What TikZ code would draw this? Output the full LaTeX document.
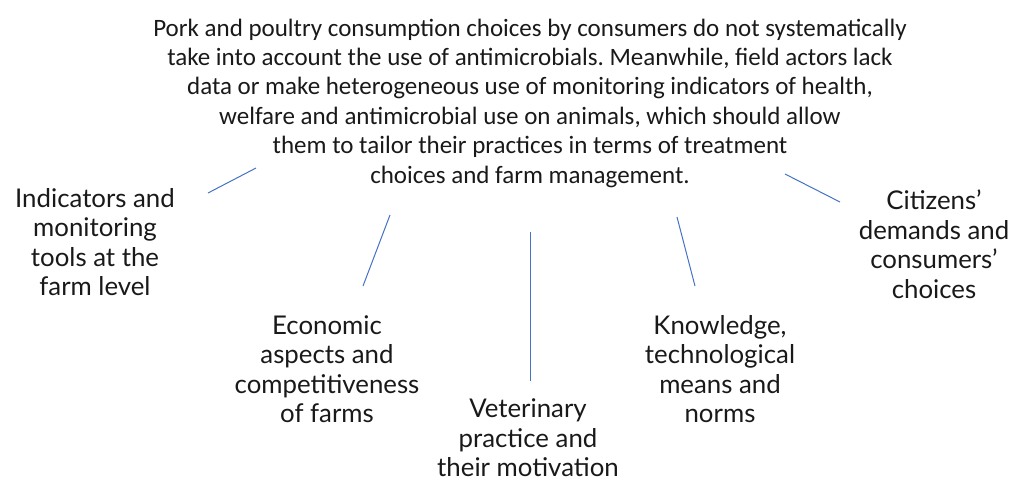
\documentclass[tikz,border=0pt]{standalone}
\usepackage{fontspec}
\setmainfont{Lato}
\newfontfamily\topfont{Carlito}
\usetikzlibrary{positioning}
\usepackage{xcolor}
\frenchspacing

\definecolor{linkblue}{RGB}{68,114,196}
\definecolor{textgrey}{RGB}{25,25,25}
\tikzset{
  problem/.style={align=center, inner sep=0pt, text=textgrey, font=\topfont\fontsize{25}{29.4}\selectfont},
  factor/.style={align=center, inner sep=0pt, text=textgrey, font=\fontsize{25.8}{29.5}\selectfont},
  link/.style={linkblue, line width=1pt},
}

\begin{document}
\begin{tikzpicture}[x=1pt, y=-1pt]
\useasboundingbox (0,0) rectangle (1029,483);

%problem
\node [problem] (problem) at (530,103) {Pork and poultry consumption choices by consumers do not systematically\\
take into account the use of antimicrobials. Meanwhile, field actors lack\\
data or make heterogeneous use of monitoring indicators of health,\\
welfare and antimicrobial use on animals, which should allow\\
them to tailor their practices in terms of treatment\\
choices and farm management.};

%factors
\node [factor] (indicators) at (95,242) {Indicators and\\monitoring\\tools at the\\farm level};
\node [factor] (economic) at (327,369) {Economic\\aspects and\\competitiveness\\of farms};
\node [factor] (veterinary) at (528,438) {Veterinary\\practice and\\their motivation};
\node [factor] (knowledge) at (720,369) {Knowledge,\\technological\\means and\\norms};
\node [factor] (citizens) at (934,244) {Citizens’\\demands and\\consumers’\\choices};

%link ends
\coordinate (indicators-top) at (208,193);
\coordinate (indicators-end) at (256,168);
\coordinate (economic-top) at (363,286);
\coordinate (economic-end) at (390,215);
\coordinate (veterinary-top) at (530,381);
\coordinate (veterinary-end) at (530,232);
\coordinate (knowledge-top) at (695,286);
\coordinate (knowledge-end) at (677,217);
\coordinate (citizens-top) at (840,202);
\coordinate (citizens-end) at (785,174);

%links
\draw [link] (indicators-top) -- (indicators-end);
\draw [link] (economic-top) -- (economic-end);
\draw [link] (veterinary-top) -- (veterinary-end);
\draw [link] (knowledge-top) -- (knowledge-end);
\draw [link] (citizens-top) -- (citizens-end);

\end{tikzpicture}
\end{document}
